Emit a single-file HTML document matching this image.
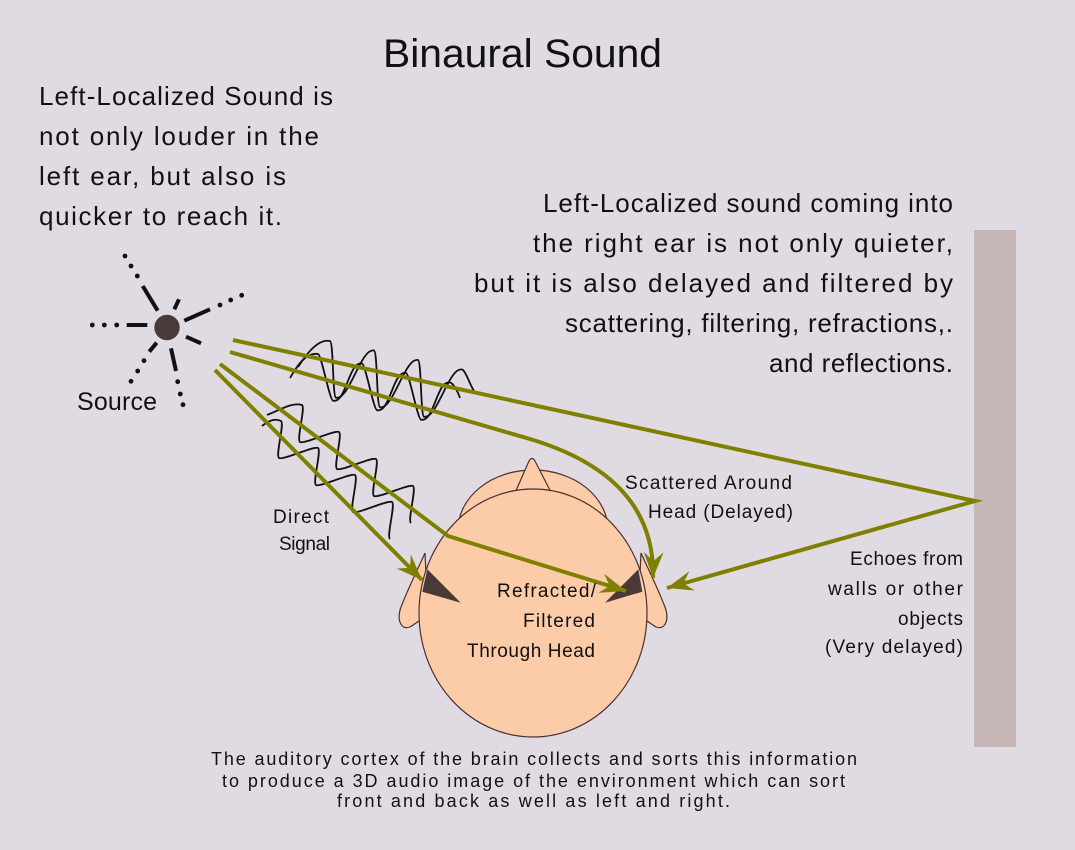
<!DOCTYPE html>
<html>
<head>
<meta charset="utf-8">
<style>
  html, body { margin:0; padding:0; background:#e0dbe3; }
  svg { display:block; }
  text { font-family: "Liberation Sans", "DejaVu Sans", sans-serif; fill:#111; }
</style>
</head>
<body>
<svg width="1075" height="850" viewBox="0 0 1075 850" xmlns="http://www.w3.org/2000/svg">
  <defs>
    <marker id="ah" viewBox="-30 -15 34 30" markerWidth="34" markerHeight="30" refX="0" refY="0" orient="auto" markerUnits="userSpaceOnUse">
      <path d="M0,0 L-26,-10 L-17,0 L-26,10 Z" fill="#808000"/>
    </marker>
  </defs>

  <rect x="0" y="0" width="1075" height="850" fill="#e0dbe3"/>

  <!-- wall -->
  <rect x="974" y="230" width="42" height="517" fill="#c6b6b6"/>

  <!-- Title -->
  <text x="383" y="67" font-size="40" textLength="279" lengthAdjust="spacingAndGlyphs">Binaural Sound</text>

  <!-- Left text block -->
  <g font-size="26">
    <text x="39" y="105" textLength="294" lengthAdjust="spacing">Left-Localized Sound is</text>
    <text x="39" y="145" textLength="280" lengthAdjust="spacing">not only louder in the</text>
    <text x="39" y="185" textLength="247" lengthAdjust="spacing">left ear, but also is</text>
    <text x="39" y="225" textLength="243" lengthAdjust="spacing">quicker to reach it.</text>
  </g>

  <!-- Right text block -->
  <g font-size="26">
    <text x="543" y="212" textLength="410" lengthAdjust="spacing">Left-Localized sound coming into</text>
    <text x="533" y="252" textLength="420" lengthAdjust="spacing">the right ear is not only quieter,</text>
    <text x="474" y="292" textLength="479" lengthAdjust="spacing">but it is also delayed and filtered by</text>
    <text x="565" y="332" textLength="388" lengthAdjust="spacing">scattering, filtering, refractions,.</text>
    <text x="769" y="372" textLength="184" lengthAdjust="spacing">and reflections.</text>
  </g>

  <!-- Source -->
  <circle cx="167" cy="327.5" r="12.7" fill="#483a3a"/>
  <g stroke="#111" stroke-width="4" stroke-linecap="butt">
    <line x1="126.7" y1="325" x2="147.3" y2="325"/>
    <line x1="142.7" y1="286" x2="157.7" y2="310.7"/>
    <line x1="179" y1="299.3" x2="174.3" y2="309.3"/>
    <line x1="184.3" y1="320.7" x2="210" y2="309.3"/>
    <line x1="186" y1="336.7" x2="201" y2="343.3"/>
    <line x1="156.7" y1="342.7" x2="149.3" y2="351.7"/>
    <line x1="171" y1="348.3" x2="176" y2="371"/>
  </g>
  <g fill="#111">
    <circle cx="92.3" cy="325" r="2.4"/><circle cx="104.3" cy="325" r="2.4"/><circle cx="116.7" cy="325" r="2.4"/>
    <circle cx="125" cy="256" r="2.4"/><circle cx="131" cy="266" r="2.4"/><circle cx="137.3" cy="276" r="2.4"/>
    <circle cx="220" cy="305" r="2.4"/><circle cx="230.7" cy="300" r="2.4"/><circle cx="241.7" cy="295.3" r="2.4"/>
    <circle cx="144" cy="360.7" r="2.4"/><circle cx="137.7" cy="371" r="2.4"/><circle cx="131" cy="381.3" r="2.4"/>
    <circle cx="177.7" cy="381.7" r="2.4"/><circle cx="180.3" cy="394" r="2.4"/><circle cx="183" cy="404.7" r="2.4"/>
  </g>
  <text x="77" y="410" font-size="25" textLength="80" lengthAdjust="spacing">Source</text>

  <!-- Head -->
  <g stroke="#4a3030" stroke-width="1.2" fill="#fccba8">
    <path d="M425,553 C415,575 405,595 400,610 C397,622 402,630 410,627 C415,624 420,620 428,615 Z"/>
    <path d="M641,553 C651,575 661,595 666,610 C669,622 664,630 656,627 C651,624 646,620 638,615 Z"/>
    <ellipse cx="533" cy="530" rx="75" ry="60"/>
    <path d="M511,502 L529,461 Q532,456 535,461 L556,502 Z"/>
    <ellipse cx="533" cy="613" rx="114" ry="124"/>
  </g>
  <polygon points="427.3,569.3 422.3,591.7 460.7,602.7" fill="#493a3a"/>
  <polygon points="638.3,569.3 642.3,591.7 605,602.7" fill="#493a3a"/>

  <!-- Waves -->
  <g fill="none" stroke="#111" stroke-width="1.8" stroke-linejoin="round">
    <!-- upper A -->
    <path d="M298,367 C304,358 316.8,338.2 330,341
      C333.5,341.8 332.5,396.9 336,397.7
      C349.2,400.6 360.8,347.7 374,350.5
      C377.5,351.3 376.5,406.4 380,407.2
      C393.2,410.1 404.8,357.2 418,360
      C421.5,360.8 420.5,415.9 424,416.7
      C437.2,419.6 448.8,366.7 462,369.5
      C465.5,370.3 470,385 474,391"/>
    <!-- upper B -->
    <path d="M290,378 C296,368 305,352 318,354
      C321.5,354.8 329.5,399.9 333,400.7
      C346.2,403.6 348.8,360.7 362,363.5
      C365.5,364.3 373.5,409.4 377,410.2
      C390.2,413.1 392.8,370.2 406,373
      C409.5,373.8 417.5,418.9 421,419.7
      C434.2,422.6 436.8,379.7 450,382.5
      C453.5,383.3 458,392 460,398"/>
    <!-- lower A -->
    <path d="M267,415 C280,410 292,402 302,405
      C305.7,407.7 296.3,439.3 300,442
      C303.7,444.7 335.3,429.3 339,432
      C342.7,434.7 333.3,466.3 337,469
      C340.7,471.7 372.3,456.3 376,459
      C379.7,461.7 370.3,493.3 374,496
      C377.7,498.7 409.3,483.3 413,486
      C416.7,488.7 407.3,520.3 411,523"/>
    <!-- lower B -->
    <path d="M262,426 C268,421 275,418 281,421
      C284.7,423.7 275.3,455.3 279,458
      C282.7,460.7 314.3,445.3 318,448
      C321.7,450.7 312.3,482.3 316,485
      C319.7,487.7 351.3,472.3 355,475
      C358.7,477.7 349.3,509.3 353,512
      C356.7,514.7 388.3,499.3 392,502
      C395.7,504.7 386.3,536.3 390,539"/>
  </g>

  <!-- Green signal lines -->
  <g fill="none" stroke="#808000" stroke-width="4" stroke-miterlimit="12" stroke-linejoin="miter">
    <path d="M233,340 L975,501 L667,588" marker-end="url(#ah)"/>
    <path d="M230,352 L530,439 C600,460 655,500 653,578" marker-end="url(#ah)"/>
    <path d="M220,364 L448,536 L626,591" marker-end="url(#ah)"/>
    <path d="M215,370 L422,580" marker-end="url(#ah)"/>
  </g>

  <!-- Labels -->
  <g font-size="19">
    <text x="625" y="489" textLength="167" lengthAdjust="spacing">Scattered Around</text>
    <text x="648" y="518" textLength="145" lengthAdjust="spacing">Head (Delayed)</text>
    <text x="273" y="523" textLength="56" lengthAdjust="spacing">Direct</text>
    <text x="279" y="550" textLength="51" lengthAdjust="spacing">Signal</text>
    <text x="497" y="597" textLength="99" lengthAdjust="spacing">Refracted/</text>
    <text x="523" y="627" textLength="72" lengthAdjust="spacing">Filtered</text>
    <text x="467" y="657" textLength="128" lengthAdjust="spacing">Through Head</text>
    <text x="850" y="565" textLength="113" lengthAdjust="spacing">Echoes from</text>
    <text x="828" y="595" textLength="135" lengthAdjust="spacing">walls or other</text>
    <text x="898" y="625" textLength="65" lengthAdjust="spacing">objects</text>
    <text x="825" y="653" textLength="138" lengthAdjust="spacing">(Very delayed)</text>
  </g>

  <!-- Bottom text -->
  <g font-size="18">
    <text x="211" y="765" textLength="646" lengthAdjust="spacing">The auditory cortex of the brain collects and sorts this information</text>
    <text x="222" y="787" textLength="623" lengthAdjust="spacing">to produce a 3D audio image of the environment which can sort</text>
    <text x="337" y="807" textLength="393" lengthAdjust="spacing">front and back as well as left and right.</text>
  </g>
</svg>
</body>
</html>
